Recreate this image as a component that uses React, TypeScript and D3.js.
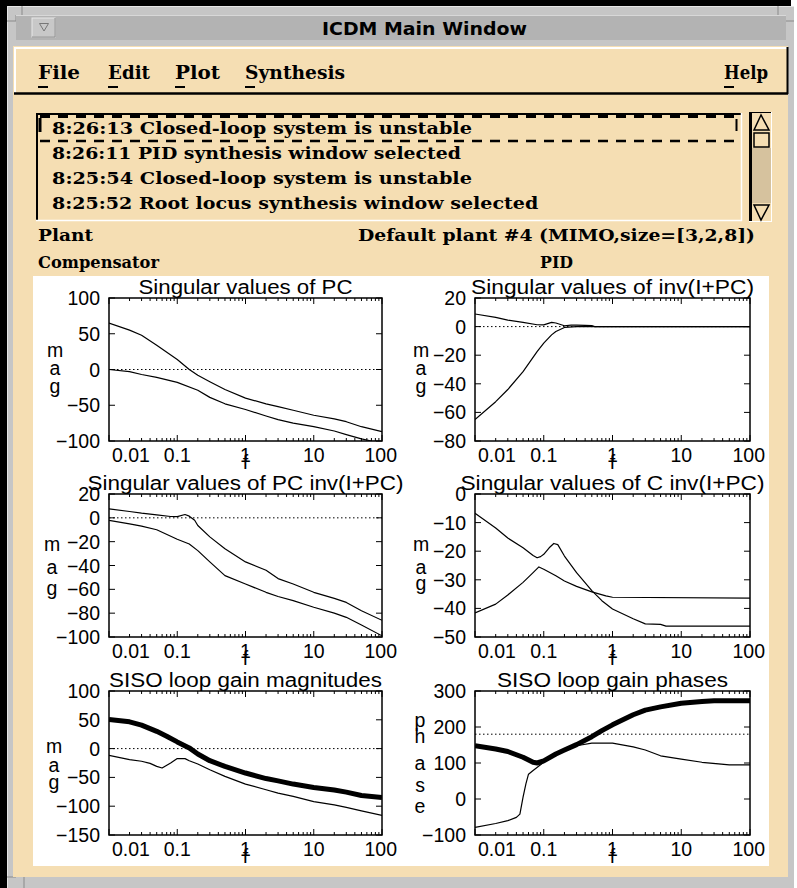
import React from "react";
import * as d3 from "d3";

// ---------- data ----------
const xTickValues = [0.01, 0.1, 1, 10, 100];
const xTickLabels = ["0.01", "0.1", "1", "10", "100"];
const decades = [0.01, 0.1, 1, 10];
const minorMultipliers = [2, 3, 4, 5, 6, 7, 8, 9];

const windowTitle = "ICDM Main Window";
const menuItems = ["File", "Edit", "Plot", "Synthesis"];
const helpItem = "Help";
const messages = [
  "8:26:13 Closed-loop system is unstable",
  "8:26:11 PID synthesis window selected",
  "8:25:54 Closed-loop system is unstable",
  "8:25:52 Root locus synthesis window selected",
];
const plantLabel = "Plant";
const plantValue = "Default plant #4 (MIMO,size=[3,2,8])";
const compLabel = "Compensator";
const compValue = "PID";

const titles = [
  "Singular values of PC",
  "Singular values of inv(I+PC)",
  "Singular values of PC inv(I+PC)",
  "Singular values of C inv(I+PC)",
  "SISO loop gain magnitudes",
  "SISO loop gain phases",
];

const yTicks1 = [-100, -50, 0, 50, 100];
const yTicks2 = [-80, -60, -40, -20, 0, 20];
const yTicks3 = [-100, -80, -60, -40, -20, 0, 20];
const yTicks4 = [-50, -40, -30, -20, -10, 0];
const yTicks5 = [-150, -100, -50, 0, 50, 100];
const yTicks6 = [-100, 0, 100, 200, 300];

type Pt = [number, number];

const pcUpper: Pt[] = [[0.01,65],[0.02,55],[0.03,48],[0.05,34],[0.1,14],[0.15,0],[0.2,-8],[0.3,-17],[0.5,-28],[1,-40],[2,-48],[3,-52],[5,-57],[10,-64],[20,-69],[30,-73],[50,-80],[100,-87]];
const pcLower: Pt[] = [[0.01,0],[0.02,-3],[0.03,-7],[0.05,-11],[0.1,-18],[0.2,-29],[0.3,-39],[0.5,-48],[1,-56],[2,-65],[3,-70],[5,-75],[10,-80],[20,-86],[30,-91],[50,-97],[70,-100],[100,-101]];

const sensUpper: Pt[] = [[0.01,8.8],[0.02,6.4],[0.03,4.5],[0.05,3],[0.08,1.3],[0.1,1.2],[0.13,3],[0.15,2.5],[0.2,0.6],[0.25,1],[0.3,1.1],[0.4,0.9],[0.5,0.7],[0.55,0],[1,0],[100,0]];
const sensLower: Pt[] = [[0.01,-65],[0.02,-52.5],[0.03,-44],[0.05,-31.5],[0.08,-17.5],[0.1,-11.6],[0.13,-5.8],[0.15,-3.4],[0.2,-0.6],[0.3,0],[100,0]];

const compUpper: Pt[] = [[0.01,7.6],[0.02,5.3],[0.03,3.9],[0.05,2.5],[0.08,1.1],[0.1,1],[0.13,2.8],[0.15,1.4],[0.18,-2],[0.2,-6.4],[0.3,-16],[0.5,-26],[1,-37],[2,-44],[3,-51],[5,-55.5],[10,-62.5],[20,-67.6],[30,-71],[50,-78],[100,-86]];
const compLower: Pt[] = [[0.01,-2.2],[0.02,-5],[0.03,-7],[0.05,-10],[0.1,-18],[0.15,-22],[0.2,-27.5],[0.3,-37],[0.5,-48.5],[1,-55.5],[2,-62.5],[3,-66],[5,-69.5],[10,-75],[20,-80],[30,-83.5],[50,-90],[100,-99]];

const ctrlA: Pt[] = [[0.01,-6.7],[0.02,-11.9],[0.03,-15.4],[0.05,-18.8],[0.07,-21.5],[0.08,-22.3],[0.09,-21.9],[0.1,-21.1],[0.12,-18.8],[0.14,-17.3],[0.16,-17.7],[0.2,-21.7],[0.3,-27.5],[0.5,-33.8],[0.7,-37.3],[1,-40.2],[2,-43.6],[3,-45.4],[5,-45.6],[6,-46.2],[10,-46.2],[100,-46.2]];
const ctrlB: Pt[] = [[0.01,-41.6],[0.02,-38.5],[0.03,-35.3],[0.05,-30.9],[0.07,-27.5],[0.085,-25.5],[0.1,-26.3],[0.15,-28.6],[0.2,-30.4],[0.3,-32.3],[0.5,-34.2],[0.8,-35.6],[1,-36.1],[100,-36.4]];

const magThick: Pt[] = [[0.01,50.6],[0.02,46.5],[0.03,40.7],[0.05,30],[0.07,21.5],[0.1,11.6],[0.15,1.2],[0.2,-9.3],[0.3,-21],[0.5,-31],[1,-42.4],[2,-52],[3,-56],[5,-61.6],[10,-67.4],[20,-72],[30,-75.6],[50,-81.4],[100,-85]];
const magThin: Pt[] = [[0.01,-11.6],[0.02,-19],[0.03,-22],[0.04,-25.6],[0.05,-30.8],[0.06,-33.7],[0.08,-25],[0.1,-17.4],[0.13,-17.4],[0.15,-21],[0.2,-26.7],[0.3,-36.6],[0.5,-48.3],[1,-61.6],[2,-71.5],[3,-77.3],[5,-83],[10,-92],[20,-97.7],[30,-102],[50,-108],[100,-116]];

const phaseThick: Pt[] = [[0.01,148],[0.02,139],[0.03,132],[0.05,116],[0.07,102],[0.08,100],[0.1,106],[0.15,125],[0.2,136],[0.3,151],[0.5,173],[0.7,190],[1,206],[2,234],[3,247],[5,256],[10,266],[20,271],[30,273],[100,273]];
const phaseThin: Pt[] = [[0.01,-79],[0.02,-68],[0.03,-60],[0.04,-51],[0.045,-42],[0.05,5],[0.055,42],[0.06,69],[0.07,79],[0.1,102],[0.2,136],[0.3,148],[0.5,155],[1,155],[2,145],[3,136],[5,120],[10,111],[20,102],[50,95],[100,95]];

// ---------- styles ----------
const WHEAT = "#f5deb3";
const FRAME = "#c6c6c6";
const MONO = "'DejaVu Serif Condensed','DejaVu Serif',serif";
const SANS = "'Liberation Sans', Arial, sans-serif";

type PanelSpec = {
  id: string; x: number; y: number; w: number; h: number;
  title: string; titleLen: number;
  yDomain: [number, number]; yTicks: number[];
  letters: string[]; letterX: number; letterY: number[];
  series: { data: Pt[]; width: number }[];
  ref: number | null;
};

const fmt = (v: number) => (v < 0 ? "\u2212" + Math.abs(v) : String(v));

function Panel({ p }: { p: PanelSpec }) {
  const x = d3.scaleLog().domain([0.01, 100]).range([p.x, p.x + p.w]);
  const y = d3.scaleLinear().domain(p.yDomain).range([p.y + p.h, p.y]);
  const line = d3.line<Pt>().x((d) => x(d[0])).y((d) => y(d[1]));
  const minor: number[] = [];
  decades.forEach((d) => minorMultipliers.forEach((k) => minor.push(d * k)));
  const bottom = p.y + p.h;
  return (
    <g>
      <defs>
        <clipPath id={"clip" + p.id}>
          <rect x={p.x} y={p.y} width={p.w} height={p.h} />
        </clipPath>
      </defs>
      <text x={p.x + p.w / 2} y={p.y - 4} textAnchor="middle" fontFamily={SANS} fontSize={20}
        textLength={p.titleLen} lengthAdjust="spacingAndGlyphs">{p.title}</text>
      {p.ref !== null && (
        <line x1={p.x} x2={p.x + p.w} y1={y(p.ref)} y2={y(p.ref)} stroke="#000" strokeWidth={1} strokeDasharray="1.5 2.5" />
      )}
      <g clipPath={`url(#clip${p.id})`}>
        {p.series.map((s, i) => (
          <path key={i} d={line(s.data) || ""} fill="none" stroke="#000" strokeWidth={s.width} strokeLinejoin="round" />
        ))}
      </g>
      <rect x={p.x} y={p.y} width={p.w} height={p.h} fill="none" stroke="#000" strokeWidth={1.5} />
      {minor.map((m, i) => (
        <g key={i}>
          <line x1={x(m)} x2={x(m)} y1={bottom} y2={bottom - 3} stroke="#000" />
          <line x1={x(m)} x2={x(m)} y1={p.y} y2={p.y + 3} stroke="#000" />
        </g>
      ))}
      {xTickValues.map((v, i) => (
        <g key={i}>
          <line x1={x(v)} x2={x(v)} y1={bottom} y2={bottom - 6} stroke="#000" />
          <line x1={x(v)} x2={x(v)} y1={p.y} y2={p.y + 6} stroke="#000" />
        </g>
      ))}
      {p.yTicks.map((v, i) => (
        <g key={i}>
          <line x1={p.x} x2={p.x + 6} y1={y(v)} y2={y(v)} stroke="#000" />
          <line x1={p.x + p.w} x2={p.x + p.w - 6} y1={y(v)} y2={y(v)} stroke="#000" />
          <text x={p.x - 9} y={y(v) + 7} textAnchor="end" fontFamily={SANS} fontSize={19.5}>{fmt(v)}</text>
        </g>
      ))}
      {xTickValues.map((v, i) => {
        const first = i === 0, last = i === xTickValues.length - 1;
        const tx = first ? x(v) + 3 : last ? x(v) + 15 : x(v);
        const anchor = first ? "start" : last ? "end" : "middle";
        return (
          <text key={i} x={tx} y={bottom + 21} textAnchor={anchor} fontFamily={SANS} fontSize={19.5}>{xTickLabels[i]}</text>
        );
      })}
      <text x={x(1)} y={bottom + 28} textAnchor="middle" fontFamily={SANS} fontSize={19.5}>f</text>
      {p.letters.map((l, i) => (
        <text key={i} x={p.letterX} y={p.y + p.letterY[i]} textAnchor="middle" fontFamily={SANS} fontSize={19.5}>{l}</text>
      ))}
    </g>
  );
}

const L = 109, LW = 273, R = 475, RW = 275, PH = 143;
const panels: PanelSpec[] = [
  { id: "1", x: L, y: 298, w: LW, h: PH, title: titles[0], titleLen: 214, yDomain: [-100, 100], yTicks: yTicks1,
    letters: ["m", "a", "g"], letterX: L - 54, letterY: [59, 77, 95], series: [{ data: pcUpper, width: 1.2 }, { data: pcLower, width: 1.2 }], ref: 0 },
  { id: "2", x: R, y: 298, w: RW, h: PH, title: titles[1], titleLen: 283, yDomain: [-80, 20], yTicks: yTicks2,
    letters: ["m", "a", "g"], letterX: R - 54, letterY: [59, 77, 95], series: [{ data: sensUpper, width: 1.2 }, { data: sensLower, width: 1.2 }], ref: 0 },
  { id: "3", x: L, y: 494, w: LW, h: PH, title: titles[2], titleLen: 316, yDomain: [-100, 20], yTicks: yTicks3,
    letters: ["m", "a", "g"], letterX: L - 57, letterY: [57, 80, 101], series: [{ data: compUpper, width: 1.2 }, { data: compLower, width: 1.2 }], ref: 0 },
  { id: "4", x: R, y: 494, w: RW, h: PH, title: titles[3], titleLen: 304, yDomain: [-50, 0], yTicks: yTicks4,
    letters: ["m", "a", "g"], letterX: R - 54, letterY: [57, 80, 96], series: [{ data: ctrlA, width: 1.2 }, { data: ctrlB, width: 1.2 }], ref: null },
  { id: "5", x: L, y: 691, w: LW, h: PH + 1, title: titles[4], titleLen: 273, yDomain: [-150, 100], yTicks: yTicks5,
    letters: ["m", "a", "g"], letterX: L - 55, letterY: [62, 81, 98], series: [{ data: magThick, width: 5 }, { data: magThin, width: 1.2 }], ref: 0 },
  { id: "6", x: R, y: 691, w: RW, h: PH + 1, title: titles[5], titleLen: 231, yDomain: [-100, 300], yTicks: yTicks6,
    letters: ["p", "h", "a", "s", "e"], letterX: R - 55, letterY: [36, 52, 79, 101, 122], series: [{ data: phaseThick, width: 5 }, { data: phaseThin, width: 1.2 }], ref: 180 },
];

const menuX = [38, 108, 175, 245];
const menuLen = [42, 42, 45, 100];

export default function App() {
  return (
    <div style={{ position: "absolute", left: 0, top: 0 }}>
      <svg width={797} height={888} style={{ display: "block" }}>
        <rect x={0} y={0} width={797} height={888} fill="#fff" />
        <rect x={0} y={0} width={791} height={888} fill="#000" />
        <rect x={7} y={6} width={787} height={882} fill={FRAME} />
        <line x1={7} x2={794} y1={6.5} y2={6.5} stroke="#e6e6e6" />
        <line x1={7.5} x2={7.5} y1={6} y2={888} stroke="#e6e6e6" />
        {/* corner notches */}
        <path d="M7,21 H16 V15 M22,6 V15" stroke="#8a8a8a" fill="none" />
        <path d="M794,21 H786 M778,6 V15" stroke="#8a8a8a" fill="none" />
        <path d="M7,877 H16 M24,877 V888" stroke="#8a8a8a" fill="none" />
        {/* title bar */}
        <rect x={16} y={15} width={770} height={25} fill="#b3b3b3" />
        <line x1={16} x2={786} y1={15.5} y2={15.5} stroke="#d8d8d8" />
        <rect x={32} y={18} width={23} height={19} fill="#c8c8c8" stroke="#e8e8e8" />
        <line x1={55} x2={55} y1={18} y2={37} stroke="#8a8a8a" />
        <line x1={32} x2={55} y1={37} y2={37} stroke="#8a8a8a" />
        <path d="M39.5,23.5 H48.5 L44,31 Z" fill="none" stroke="#777" />
        <text x={424.5} y={35} textAnchor="middle" fontFamily="'DejaVu Sans',sans-serif" fontSize={18}
          textLength={205} lengthAdjust="spacingAndGlyphs" fontWeight={600}>{windowTitle}</text>
        {/* content */}
        <rect x={13} y={46} width={775} height={831} fill={WHEAT} />
        {/* menu bar */}
        <line x1={14} x2={788} y1={48} y2={48} stroke="#fff" strokeWidth={2} />
        <line x1={15} x2={15} y1={47} y2={94} stroke="#fff" strokeWidth={2} />
        <line x1={14} x2={788} y1={93.5} y2={93.5} stroke="#000" strokeWidth={2.5} />
        <line x1={787.5} x2={787.5} y1={47} y2={94} stroke="#000" strokeWidth={2} />
        {menuItems.map((m, i) => (
          <g key={m}>
            <text x={menuX[i]} y={79} fontFamily={MONO} fontWeight="bold" fontSize={18}
              textLength={menuLen[i]} lengthAdjust="spacingAndGlyphs">{m}</text>
            <line x1={menuX[i]} x2={menuX[i] + 10} y1={87} y2={87} stroke="#000" strokeWidth={2} />
          </g>
        ))}
        <text x={724} y={79} fontFamily={MONO} fontWeight="bold" fontSize={18} textLength={44} lengthAdjust="spacingAndGlyphs">{helpItem}</text>
        <line x1={724} x2={734} y1={87} y2={87} stroke="#000" strokeWidth={2} />
        {/* message list */}
        <rect x={36} y={113} width={706} height={108} fill={WHEAT} />
        <line x1={36} x2={742} y1={114} y2={114} stroke="#000" strokeWidth={2} />
        <line x1={37} x2={37} y1={113} y2={221} stroke="#000" strokeWidth={2} />
        <line x1={36} x2={742} y1={220.5} y2={220.5} stroke="#fff" strokeWidth={1.5} />
        <line x1={741.5} x2={741.5} y1={113} y2={221} stroke="#fff" strokeWidth={1.5} />
        <line x1={40} x2={738} y1={116.5} y2={116.5} stroke="#000" strokeWidth={3} strokeDasharray="10 8" />
        <line x1={40} x2={738} y1={141} y2={141} stroke="#000" strokeWidth={2.5} strokeDasharray="10 8" />
        <line x1={40} x2={40} y1={118} y2={132} stroke="#000" strokeWidth={3} />
        <line x1={736.5} x2={736.5} y1={119} y2={131} stroke="#000" strokeWidth={2} />
        {messages.map((m, i) => (
          <text key={i} x={52} y={134 + i * 25} fontFamily={MONO} fontWeight="bold" fontSize={17}
            textLength={m.length * 11.05} lengthAdjust="spacingAndGlyphs">{m}</text>
        ))}
        {/* scrollbar */}
        <rect x={749} y={112} width={23} height={110} fill={WHEAT} />
        <rect x={752} y={148} width={19} height={55} fill="#d6c29e" />
        <line x1={750.5} x2={750.5} y1={112} y2={222} stroke="#000" strokeWidth={3} />
        <line x1={749} x2={772} y1={112.5} y2={112.5} stroke="#000" />
        <line x1={749} x2={772} y1={221.5} y2={221.5} stroke="#fff" />
        <line x1={771.5} x2={771.5} y1={112} y2={222} stroke="#fff" />
        <path d="M761,115 L754,130 H769 Z" fill="none" stroke="#000" strokeWidth={1.5} />
        <rect x={754} y={133} width={15} height={14} fill={WHEAT} stroke="#000" strokeWidth={1.5} />
        <path d="M754,205 H769 L761,220 Z" fill="none" stroke="#000" strokeWidth={1.5} />
        {/* plant / compensator */}
        <text x={38} y={241} fontFamily={MONO} fontWeight="bold" fontSize={17} textLength={55} lengthAdjust="spacingAndGlyphs">{plantLabel}</text>
        <text x={358} y={241} fontFamily={MONO} fontWeight="bold" fontSize={17} textLength={397} lengthAdjust="spacingAndGlyphs">{plantValue}</text>
        <text x={38} y={268} fontFamily={MONO} fontWeight="bold" fontSize={17} textLength={121} lengthAdjust="spacingAndGlyphs">{compLabel}</text>
        <text x={540} y={268} fontFamily={MONO} fontWeight="bold" fontSize={17} textLength={33} lengthAdjust="spacingAndGlyphs">{compValue}</text>
        {/* plot area */}
        <rect x={33} y={276} width={736} height={590} fill="#fff" />
        {panels.map((p) => (
          <Panel key={p.id} p={p} />
        ))}
      </svg>
    </div>
  );
}
